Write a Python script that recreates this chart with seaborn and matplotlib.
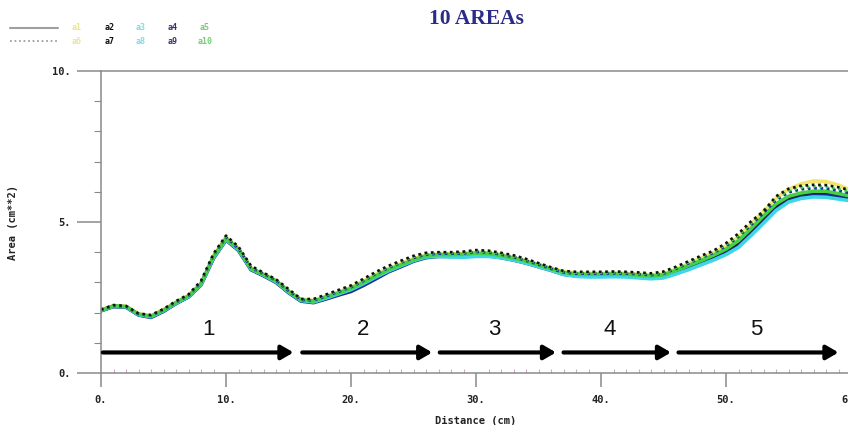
import numpy as np
import pandas as pd
import seaborn as sns
import matplotlib.pyplot as plt
from matplotlib.lines import Line2D
from matplotlib.ticker import FuncFormatter, MultipleLocator

# Distance along the sample (cm), one reading per cm
distance = np.arange(0, 61)

# Area curves (cm**2)
a1 = [2.09, 2.23, 2.21, 1.96, 1.90, 2.10, 2.35, 2.57, 2.98, 3.88,
      4.50, 4.12, 3.48, 3.28, 3.07, 2.72, 2.44, 2.40, 2.55, 2.68,
      2.84, 3.05, 3.27, 3.46, 3.62, 3.78, 3.90, 3.94, 3.95, 3.96,
      4.00, 3.98, 3.92, 3.83, 3.72, 3.60, 3.47, 3.36, 3.31, 3.30,
      3.30, 3.31, 3.30, 3.27, 3.24, 3.28, 3.44, 3.62, 3.80, 3.98,
      4.20, 4.50, 4.92, 5.35, 5.78, 6.08, 6.26, 6.36, 6.34, 6.22, 6.05]
a2 = [2.07, 2.21, 2.19, 1.94, 1.86, 2.06, 2.31, 2.53, 2.93, 3.83,
      4.44, 4.08, 3.44, 3.24, 3.03, 2.68, 2.40, 2.36, 2.49, 2.62,
      2.75, 2.95, 3.17, 3.38, 3.55, 3.72, 3.85, 3.88, 3.88, 3.89,
      3.93, 3.91, 3.85, 3.76, 3.66, 3.54, 3.42, 3.30, 3.25, 3.24,
      3.24, 3.25, 3.24, 3.21, 3.17, 3.20, 3.34, 3.50, 3.66, 3.83,
      4.02, 4.28, 4.66, 5.08, 5.50, 5.76, 5.88, 5.94, 5.94, 5.87, 5.80]
a3 = [2.07, 2.21, 2.19, 1.93, 1.86, 2.06, 2.31, 2.53, 2.93, 3.82,
      4.42, 4.08, 3.44, 3.24, 3.02, 2.68, 2.40, 2.35, 2.48, 2.62,
      2.76, 2.96, 3.18, 3.38, 3.55, 3.72, 3.84, 3.86, 3.84, 3.83,
      3.86, 3.86, 3.82, 3.74, 3.64, 3.52, 3.40, 3.26, 3.20, 3.18,
      3.18, 3.19, 3.18, 3.15, 3.12, 3.15, 3.28, 3.42, 3.58, 3.74,
      3.92, 4.16, 4.55, 4.96, 5.38, 5.66, 5.78, 5.83, 5.82, 5.76, 5.70]
a4 = [2.06, 2.20, 2.18, 1.92, 1.84, 2.04, 2.30, 2.52, 2.92, 3.80,
      4.40, 4.06, 3.42, 3.22, 3.00, 2.66, 2.38, 2.33, 2.45, 2.58,
      2.70, 2.90, 3.12, 3.35, 3.52, 3.70, 3.82, 3.86, 3.86, 3.87,
      3.90, 3.88, 3.82, 3.74, 3.64, 3.52, 3.40, 3.27, 3.22, 3.21,
      3.21, 3.22, 3.21, 3.18, 3.14, 3.17, 3.30, 3.45, 3.60, 3.76,
      3.95, 4.20, 4.58, 5.00, 5.42, 5.70, 5.82, 5.88, 5.88, 5.82, 5.76]
a5 = [2.08, 2.22, 2.20, 1.95, 1.88, 2.08, 2.33, 2.55, 2.95, 3.85,
      4.45, 4.10, 3.45, 3.26, 3.05, 2.70, 2.42, 2.38, 2.52, 2.65,
      2.80, 3.00, 3.22, 3.42, 3.58, 3.75, 3.88, 3.92, 3.92, 3.93,
      3.97, 3.95, 3.89, 3.80, 3.70, 3.58, 3.45, 3.33, 3.28, 3.27,
      3.27, 3.28, 3.27, 3.24, 3.21, 3.25, 3.40, 3.56, 3.72, 3.90,
      4.10, 4.38, 4.78, 5.20, 5.60, 5.85, 5.96, 6.02, 6.02, 5.94, 5.86]
a6 = [2.10, 2.24, 2.22, 1.97, 1.91, 2.11, 2.37, 2.59, 3.03, 3.93,
      4.53, 4.16, 3.53, 3.31, 3.09, 2.76, 2.45, 2.43, 2.58, 2.73,
      2.88, 3.10, 3.33, 3.53, 3.70, 3.86, 3.96, 3.99, 3.99, 4.01,
      4.06, 4.04, 3.96, 3.88, 3.76, 3.63, 3.49, 3.37, 3.34, 3.34,
      3.34, 3.35, 3.34, 3.32, 3.29, 3.34, 3.50, 3.68, 3.86, 4.03,
      4.28, 4.60, 5.00, 5.38, 5.84, 6.12, 6.24, 6.28, 6.26, 6.18, 6.06]
a7 = [2.10, 2.25, 2.22, 1.97, 1.92, 2.12, 2.38, 2.60, 3.05, 3.95,
      4.55, 4.18, 3.55, 3.32, 3.10, 2.78, 2.45, 2.45, 2.60, 2.75,
      2.90, 3.12, 3.35, 3.55, 3.72, 3.88, 3.98, 4.00, 4.00, 4.02,
      4.07, 4.05, 3.98, 3.90, 3.78, 3.64, 3.50, 3.38, 3.35, 3.35,
      3.35, 3.36, 3.35, 3.33, 3.30, 3.36, 3.52, 3.70, 3.88, 4.05,
      4.30, 4.62, 5.02, 5.35, 5.85, 6.10, 6.20, 6.23, 6.22, 6.15, 6.05]
a8 = [2.08, 2.23, 2.20, 1.95, 1.89, 2.09, 2.35, 2.57, 3.00, 3.90,
      4.50, 4.13, 3.50, 3.29, 3.06, 2.73, 2.42, 2.40, 2.55, 2.70,
      2.85, 3.06, 3.29, 3.49, 3.66, 3.82, 3.93, 3.96, 3.96, 3.97,
      4.02, 4.00, 3.93, 3.85, 3.73, 3.60, 3.46, 3.34, 3.30, 3.30,
      3.30, 3.31, 3.30, 3.28, 3.25, 3.30, 3.46, 3.64, 3.82, 3.99,
      4.22, 4.53, 4.93, 5.32, 5.74, 6.00, 6.10, 6.14, 6.13, 6.06, 5.96]
a9 = [2.08, 2.22, 2.20, 1.95, 1.89, 2.09, 2.34, 2.56, 2.99, 3.89,
      4.49, 4.12, 3.49, 3.28, 3.06, 2.72, 2.42, 2.40, 2.54, 2.69,
      2.84, 3.05, 3.28, 3.48, 3.65, 3.81, 3.92, 3.95, 3.95, 3.96,
      4.01, 3.99, 3.92, 3.84, 3.72, 3.59, 3.45, 3.33, 3.29, 3.29,
      3.29, 3.30, 3.29, 3.27, 3.24, 3.29, 3.45, 3.63, 3.81, 3.98,
      4.20, 4.51, 4.90, 5.30, 5.72, 5.98, 6.08, 6.12, 6.11, 6.04, 5.94]
a10 = [2.09, 2.24, 2.21, 1.96, 1.90, 2.10, 2.36, 2.58, 3.02, 3.92,
       4.52, 4.15, 3.52, 3.30, 3.08, 2.75, 2.44, 2.42, 2.57, 2.72,
       2.87, 3.08, 3.31, 3.51, 3.68, 3.84, 3.95, 3.98, 3.98, 3.99,
       4.04, 4.02, 3.95, 3.87, 3.75, 3.62, 3.48, 3.36, 3.32, 3.32,
       3.32, 3.33, 3.32, 3.30, 3.27, 3.32, 3.48, 3.66, 3.84, 4.01,
       4.25, 4.56, 4.96, 5.38, 5.78, 6.04, 6.14, 6.18, 6.17, 6.10, 6.00]

series = {"a1": a1, "a2": a2, "a3": a3, "a4": a4, "a5": a5,
          "a6": a6, "a7": a7, "a8": a8, "a9": a9, "a10": a10}
colors = {"a1": "#f0e46a", "a2": "#111111", "a3": "#3fd6e6", "a4": "#1c2c8c",
          "a5": "#46d046", "a6": "#f0e46a", "a7": "#111111", "a8": "#3fd6e6",
          "a9": "#1c2c8c", "a10": "#46d046"}
draw_order = ["a1", "a2", "a4", "a3", "a5", "a6", "a8", "a9", "a10", "a7"]

# Marked zones along the sample
zone_labels = ["1", "2", "3", "4", "5"]
zone_start = [0.15, 16.1, 27.1, 37.0, 46.2]
zone_end = [15.4, 26.5, 36.4, 45.6, 59.0]
zone_label_x = [8.6, 21.0, 31.5, 40.7, 52.4]
arrow_y = 0.68
label_y = 1.45

sns.set_style("white")
mono = "DejaVu Sans Mono"
axis_grey = "#8a8a8a"

fig = plt.figure(figsize=(8.48, 4.25), dpi=100)
ax = fig.add_axes([101 / 848, 52 / 425, 750 / 848, 302 / 425])

for name in draw_order:
    dotted = int(name[1:]) > 5
    sns.lineplot(x=distance, y=series[name], ax=ax, color=colors[name],
                 lw=1.9 if dotted else 2.6,
                 linestyle=(0, (1, 1.4)) if dotted else "-")

for s, e, lx, lab in zip(zone_start, zone_end, zone_label_x, zone_labels):
    ax.annotate("", xy=(e, arrow_y), xytext=(s, arrow_y),
                arrowprops=dict(arrowstyle="-|>,head_length=0.55,head_width=0.32",
                                color="black", lw=3, mutation_scale=13,
                                shrinkA=0, shrinkB=0))
    ax.text(lx, label_y, lab, ha="center", va="center", fontsize=16,
            family="Liberation Sans", color="#111111")

ax.set_xlim(0, 60)
ax.set_ylim(0, 10)
ax.xaxis.set_major_locator(MultipleLocator(10))
ax.xaxis.set_minor_locator(MultipleLocator(1))
ax.yaxis.set_major_locator(MultipleLocator(5))
ax.yaxis.set_minor_locator(MultipleLocator(1))
fmt = FuncFormatter(lambda v, _: f"{v:.0f}.")
ax.xaxis.set_major_formatter(fmt)
ax.yaxis.set_major_formatter(fmt)

ax.tick_params(axis="x", which="major", direction="out", length=10, width=1.1,
               color=axis_grey, pad=6)
ax.tick_params(axis="x", which="minor", direction="in", length=3, width=0.8,
               color="#d0a8d0")
ax.tick_params(axis="y", which="major", direction="out", length=17, width=1.1,
               color=axis_grey, pad=5)
ax.tick_params(axis="y", which="minor", direction="out", length=5, width=0.8,
               color=axis_grey)
ax.tick_params(axis="both", which="both", bottom=True, left=True,
               labelsize=7.5, labelcolor="#222222")
for lbl in ax.get_xticklabels() + ax.get_yticklabels():
    lbl.set_family(mono)
    lbl.set_fontweight("bold")

for side in ["left", "bottom", "top"]:
    ax.spines[side].set_color(axis_grey)
    ax.spines[side].set_linewidth(1.1)
ax.spines["right"].set_visible(False)

ax.set_xlabel("Distance (cm)", family=mono, fontweight="bold", fontsize=7.5,
              color="#222222", labelpad=8)
ax.set_ylabel("Area (cm**2)", family=mono, fontweight="bold", fontsize=7.5,
              color="#222222", labelpad=24)

fig.text(476 / 848, 1 - 19 / 425, "10 AREAs", ha="center", va="center",
         family="Liberation Serif", fontweight="bold", fontsize=15.5,
         color="#2b2b88")

# legend block in the top-left corner
fig.add_artist(Line2D([10 / 848, 58 / 848], [1 - 28 / 425] * 2,
                      transform=fig.transFigure, color="#a0a0a0", lw=1.5))
fig.add_artist(Line2D([10 / 848, 58 / 848], [1 - 41 / 425] * 2,
                      transform=fig.transFigure, color="#a0a0a0", lw=1.3,
                      linestyle=(0, (1, 1.5))))
legend_x = [77, 110, 141, 173, 205]
legend_colors = ["#ece58a", "#111111", "#7fdde6", "#34347a", "#78cc78"]
for i, name in enumerate(list(series)):
    row, col = divmod(i, 5)
    fig.text(legend_x[col] / 848, 1 - (28 + 13 * row) / 425, name,
             ha="center", va="center", family=mono, fontweight="bold",
             fontsize=6, color=legend_colors[col])

fig.savefig("out.png", dpi=100)
